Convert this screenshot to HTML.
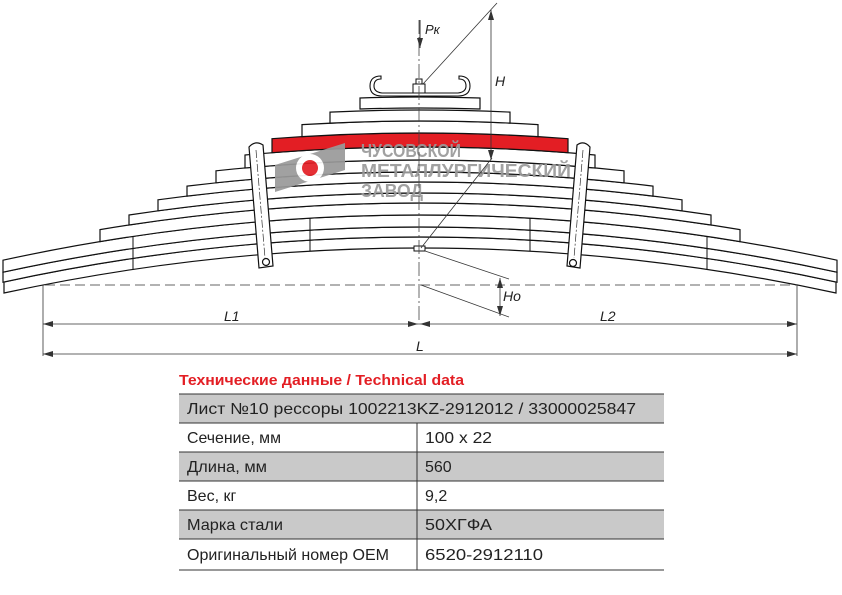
<!DOCTYPE html>
<html><head><meta charset="utf-8"><style>
body{margin:0;background:#fff;width:842px;height:595px;overflow:hidden;font-family:"Liberation Sans",sans-serif}
</style></head><body>
<svg width="842" height="595" viewBox="0 0 842 595" xmlns="http://www.w3.org/2000/svg" style="position:absolute;left:0;top:0">
<defs>
<marker id="a" viewBox="0 0 10 6" refX="10" refY="3" markerWidth="10" markerHeight="6" orient="auto-start-reverse" markerUnits="userSpaceOnUse"><path d="M0,0 L10,3 L0,6Z" fill="#333"/></marker>
</defs>
<g fill="#fff" stroke="#111" stroke-width="1.2">
<path d="M4,282 Q420,192 836,282 L836,293 Q420,203 4,293Z"/>
<path d="M3,272.2 Q420,181.8 837,272.2 L837,282.2 Q420,191.8 3,282.2Z"/>
<path d="M3,260.2 Q420,169.8 837,260.2 L837,272.2 Q420,181.8 3,272.2Z"/>
<path d="M100,229.6 Q420,176.4 740,229.6 L740,241.6 Q420,188.4 100,241.6Z"/>
<path d="M129,215 Q420,171 711,215 L711,225 Q420,181 129,225Z"/>
<path d="M158,199.8 Q420,164.2 682,199.8 L682,210.8 Q420,175.2 158,210.8Z"/>
<path d="M187,186.1 Q420,157.9 653,186.1 L653,196.1 Q420,167.9 187,196.1Z"/>
<path d="M216,170.8 Q420,149.2 624,170.8 L624,182.8 Q420,161.2 216,182.8Z"/>
<path d="M245,155 Q420,139 595,155 L595,168 Q420,152 245,168Z"/>
<path d="M272,138.7 Q420,127.3 568,138.7 L568,152.7 Q420,141.3 272,152.7Z" fill="#e31e24"/>
<path d="M302,124.6 Q420,117.4 538,124.6 L538,136.6 Q420,129.4 302,136.6Z"/>
<path d="M330,112.1 Q420,107.9 510,112.1 L510,123.1 Q420,118.9 330,123.1Z"/>
<path d="M360,98 Q420,96 480,98 L480,109 Q420,107 360,109Z"/>
</g>
<g stroke="#111" stroke-width="1">
<line x1="133" y1="236" x2="133" y2="270"/><line x1="707" y1="236" x2="707" y2="270"/>
<line x1="310" y1="218" x2="310" y2="251"/><line x1="530" y1="218" x2="530" y2="251"/>
</g>
<!-- logo -->
<g opacity="0.92">
<polygon points="275,165 345,143 345,170 275,192" fill="#9a9a9a"/>
<circle cx="310" cy="168" r="14" fill="#fff"/>
<circle cx="310" cy="168" r="8" fill="#e31e24"/>
<g fill="#9a9a9a" font-size="18" font-weight="bold" font-family="Liberation Sans,sans-serif">
<text x="361" y="157" textLength="100" lengthAdjust="spacingAndGlyphs">ЧУСОВСКОЙ</text>
<text x="361" y="177" textLength="210" lengthAdjust="spacingAndGlyphs">МЕТАЛЛУРГИЧЕСКИЙ</text>
<text x="361" y="197" textLength="62" lengthAdjust="spacingAndGlyphs">ЗАВОД</text>
</g>
</g>
<!-- clamps -->
<g fill="#fff" stroke="#111" stroke-width="1.2">
<path d="M249,147 Q255,140 263,145 L273,266 L259,268Z"/>
<circle cx="266" cy="262" r="3.5"/>
<path d="M577,145 Q584,140 590,147 L580,268 L567,266Z"/>
<circle cx="573" cy="263" r="3.5"/>
</g>
<g stroke="#333" stroke-width="0.7" stroke-dasharray="8,2,2,2">
<line x1="256" y1="150" x2="265" y2="258"/><line x1="583" y1="150" x2="574" y2="258"/>
</g>
<!-- top clip -->
<path d="M382,93 L458,93 Q466,92 466,86 Q466,79 459,79 L459,76 Q470,76 470,86 Q470,96 458,96 L382,96 Q370,96 370,86 Q370,76 381,76 L381,79 Q374,79 374,86 Q374,92 382,93Z" fill="#fff" stroke="#111" stroke-width="1.1"/>
<rect x="413" y="84" width="12" height="9" fill="#fff" stroke="#111"/>
<rect x="416" y="79" width="6" height="5" fill="#fff" stroke="#111"/>
<rect x="414" y="246" width="11" height="5" fill="#fff" stroke="#111"/>
<!-- center line -->
<line x1="419" y1="20" x2="419" y2="325" stroke="#444" stroke-width="0.8" stroke-dasharray="14,3,2,3"/>
<line x1="420" y1="20" x2="420" y2="48" stroke="#333" marker-end="url(#a)"/>
<text x="425" y="34" font-size="13" font-style="italic" fill="#222">Pк</text>
<!-- H -->
<g stroke="#333" stroke-width="0.8" fill="none">
<line x1="497" y1="3" x2="423" y2="84"/>
<line x1="492" y1="158" x2="421" y2="248"/>
<line x1="491" y1="10" x2="491" y2="160" marker-start="url(#a)" marker-end="url(#a)"/>
<line x1="425" y1="251" x2="509" y2="279"/>
<line x1="421" y1="285" x2="509" y2="317"/>
<line x1="500" y1="278" x2="500" y2="316" marker-start="url(#a)" marker-end="url(#a)"/>
<line x1="45" y1="285" x2="797" y2="285" stroke-dasharray="10,5"/>
<line x1="43" y1="285" x2="43" y2="356"/>
<line x1="797" y1="285" x2="797" y2="356"/>
<line x1="43" y1="324" x2="418" y2="324" marker-start="url(#a)" marker-end="url(#a)"/>
<line x1="420" y1="324" x2="797" y2="324" marker-start="url(#a)" marker-end="url(#a)"/>
<line x1="43" y1="354" x2="797" y2="354" marker-start="url(#a)" marker-end="url(#a)"/>
</g>
<g font-size="14" font-style="italic" fill="#222">
<text x="495" y="86">H</text>
<text x="503" y="301">Ho</text>
<text x="224" y="321">L1</text>
<text x="600" y="321">L2</text>
<text x="416" y="351">L</text>
</g>
<!-- table -->
<text x="179" y="385" font-size="15" font-weight="bold" fill="#e31e24" textLength="285" lengthAdjust="spacingAndGlyphs">Технические данные / Technical data</text>
<g>
<rect x="179" y="394" width="485" height="29" fill="#c9c9c9"/>
<rect x="179" y="452" width="485" height="29" fill="#c9c9c9"/>
<rect x="179" y="510" width="485" height="29" fill="#c9c9c9"/>
<g stroke="#333" stroke-width="1">
<line x1="179" y1="394" x2="664" y2="394"/><line x1="179" y1="423" x2="664" y2="423"/>
<line x1="179" y1="452" x2="664" y2="452"/><line x1="179" y1="481" x2="664" y2="481"/>
<line x1="179" y1="510" x2="664" y2="510"/><line x1="179" y1="539" x2="664" y2="539"/>
<line x1="179" y1="570" x2="664" y2="570"/><line x1="417" y1="423" x2="417" y2="570"/>
</g>
<g font-size="16" fill="#222">
<text x="187" y="414" textLength="449" lengthAdjust="spacingAndGlyphs">Лист №10 рессоры 1002213KZ-2912012 / 33000025847</text>
<text x="187" y="443" textLength="94" lengthAdjust="spacingAndGlyphs">Сечение, мм</text><text x="425" y="443" textLength="67" lengthAdjust="spacingAndGlyphs">100 x 22</text>
<text x="187" y="472" textLength="80" lengthAdjust="spacingAndGlyphs">Длина, мм</text><text x="425" y="472">560</text>
<text x="187" y="501">Вес, кг</text><text x="425" y="501">9,2</text>
<text x="187" y="530" textLength="96" lengthAdjust="spacingAndGlyphs">Марка стали</text><text x="425" y="530" textLength="67" lengthAdjust="spacingAndGlyphs">50ХГФА</text>
<text x="187" y="560" textLength="202" lengthAdjust="spacingAndGlyphs">Оригинальный номер OEM</text><text x="425" y="560" textLength="118" lengthAdjust="spacingAndGlyphs">6520-2912110</text>
</g>
</g>
</svg>
</body></html>
